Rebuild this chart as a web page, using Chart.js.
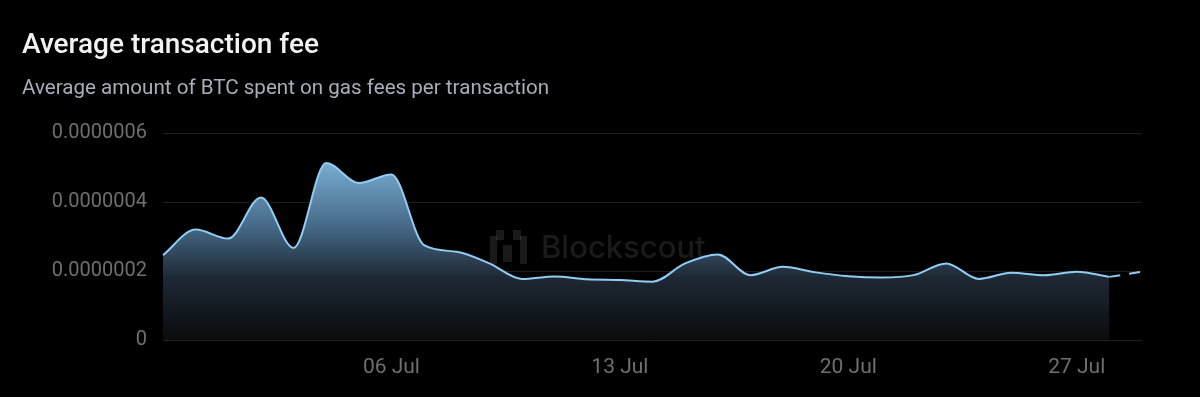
<!DOCTYPE html>
<html>
<head>
<meta charset="utf-8">
<script src="https://cdn.jsdelivr.net/npm/chart.js@4"></script>
<style>
  html, body { margin: 0; padding: 0; background: #000; }
  body { width: 1200px; height: 397px; position: relative; overflow: hidden; font-family: Roboto, sans-serif; }
  #title { position: absolute; left: 22px; top: 30px; font-size: 28px; line-height: 28px; font-weight: 500; color: #f2f2f2; margin: 0; }
  #subtitle { position: absolute; left: 22px; top: 77px; font-size: 20.6px; line-height: 20px; color: #a7aebb; margin: 0; }
  #wrap { position: absolute; left: 0; top: 0; width: 1200px; height: 397px; }
</style>
</head>
<body>
<div id="wrap"><canvas id="feeChart"></canvas></div>
<h2 id="title">Average transaction fee</h2>
<p id="subtitle">Average amount of BTC spent on gas fees per transaction</p>
<script>
// days from 29 Jun to 29 Jul
const days = ['29 Jun', '30 Jun', '01 Jul', '02 Jul', '03 Jul', '04 Jul', '05 Jul', '06 Jul',
  '07 Jul', '08 Jul', '09 Jul', '10 Jul', '11 Jul', '12 Jul', '13 Jul', '14 Jul', '15 Jul',
  '16 Jul', '17 Jul', '18 Jul', '19 Jul', '20 Jul', '21 Jul', '22 Jul', '23 Jul', '24 Jul',
  '25 Jul', '26 Jul', '27 Jul', '28 Jul', '29 Jul'];

// average fee in BTC (1e-7 units)
const feeE7 = [2.46, 3.20, 2.94, 4.13, 2.67, 5.13, 4.55, 4.80,
  2.75, 2.56, 2.22, 1.77, 1.84, 1.76, 1.74, 1.69, 2.22,
  2.48, 1.88, 2.12, 1.96, 1.85, 1.81, 1.88, 2.22, 1.77,
  1.95, 1.88, 1.98, 1.83, 1.98];

const shownTicks = ['06 Jul', '13 Jul', '20 Jul', '27 Jul'];
const yTicks = [0, 0.0000002, 0.0000004, 0.0000006];

const fees = feeE7.map(v => v * 1e-7);
// last day is not complete yet -> dashed, no fill
const lastIdx = fees.length - 1;
const solidPart = fees.map((v, i) => i < lastIdx ? v : null);
const pendingPart = fees.map((v, i) => i >= lastIdx - 1 ? v : null);

const lineColor = '#90cdf4';

function areaGradient(context) {
  const chart = context.chart;
  const area = chart.chartArea;
  if (!area) return 'rgba(144,205,244,0.3)';
  const g = chart.ctx.createLinearGradient(0, area.top, 0, area.bottom);
  g.addColorStop(0, 'rgba(144,205,244,1)');
  g.addColorStop(0.45, 'rgba(70,105,135,1)');
  g.addColorStop(0.7, 'rgba(30,40,52,1)');
  g.addColorStop(1, 'rgba(10,11,13,1)');
  return g;
}

const watermark = {
  id: 'watermark',
  beforeDatasetsDraw(chart) {
    const ctx = chart.ctx;
    ctx.save();
    ctx.fillStyle = 'rgba(255,255,255,0.1)';
    ctx.fillRect(490, 236, 7, 28);
    ctx.fillRect(496, 230, 8, 10);
    ctx.fillRect(503, 245, 9, 17);
    ctx.fillRect(513, 230, 8, 10);
    ctx.fillRect(520, 236, 7, 28);
    ctx.font = '500 31px Inter, Roboto, sans-serif';
    ctx.textBaseline = 'alphabetic';
    ctx.fillText('Blockscout', 541, 258);
    ctx.restore();
  }
};

new Chart(document.getElementById('feeChart'), {
  type: 'line',
  data: {
    labels: days,
    datasets: [
      {
        data: solidPart,
        borderColor: lineColor,
        borderWidth: 2,
        backgroundColor: areaGradient,
        fill: 'origin',
        pointRadius: 0,
        cubicInterpolationMode: 'monotone',
      },
      {
        data: pendingPart,
        borderColor: lineColor,
        borderWidth: 2,
        borderDash: [11, 9],
        fill: false,
        pointRadius: 0,
        cubicInterpolationMode: 'monotone',
      },
    ],
  },
  options: {
    responsive: true,
    maintainAspectRatio: false,
    animation: false,
    layout: { padding: { top: 133, right: 58, bottom: 0, left: 0 } },
    plugins: { legend: { display: false }, tooltip: { enabled: false } },
    scales: {
      x: {
        grid: { display: false },
        border: { display: false },
        ticks: {
          autoSkip: false,
          maxRotation: 0,
          padding: 7,
          color: '#6f6f6f',
          font: { family: 'Roboto', size: 21 },
          callback: function (value) {
            const lab = this.getLabelForValue(value);
            return shownTicks.includes(lab) ? lab : null;
          },
        },
        afterFit: scale => { scale.height = 57; },
      },
      y: {
        min: 0,
        max: 0.0000006,
        afterBuildTicks: scale => { scale.ticks = yTicks.map(v => ({ value: v })); },
        grid: { color: '#1e1e1e', lineWidth: 1, drawTicks: false },
        border: { display: false },
        ticks: {
          padding: 16,
          color: '#6f6f6f',
          font: { family: 'Roboto', size: 20 },
          callback: v => v === 0 ? '0' : v.toFixed(7),
        },
        afterFit: scale => { scale.width = 163; },
      },
    },
  },
  plugins: [watermark],
});
</script>
</body>
</html>
